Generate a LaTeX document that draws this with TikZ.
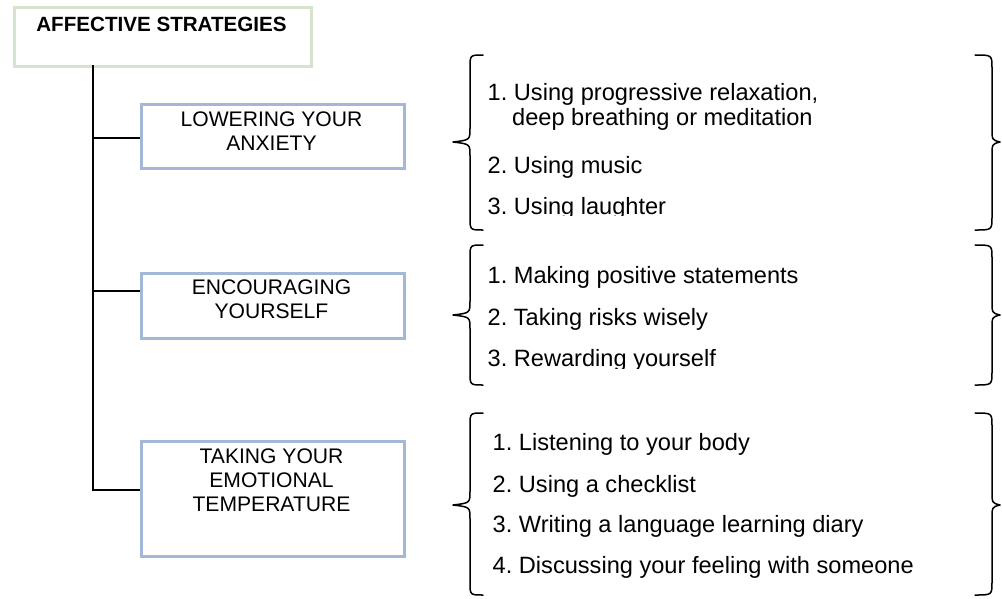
\documentclass[tikz,border=0pt]{standalone}
\usepackage{fontspec}
\setmainfont{Liberation Sans}
\frenchspacing
\definecolor{titleframe}{RGB}{214,227,207}
\definecolor{boxframe}{RGB}{163,184,214}
\tikzset{
  titlebox/.style={draw=titleframe, line width=3pt, minimum width=297pt, minimum height=59pt, inner sep=0pt, anchor=north west},
  stratbox/.style={draw=boxframe, line width=3pt, minimum width=263pt, inner sep=0pt, anchor=north west},
  boxline/.style={anchor=base, inner sep=0pt, font=\fontsize{21.1pt}{24pt}\selectfont},
  titleline/.style={anchor=base, inner sep=0pt, font=\bfseries\fontsize{20.6pt}{24pt}\selectfont},
  itemline/.style={anchor=base west, inner sep=0pt, font=\fontsize{23.6pt}{26pt}\selectfont},
  trunk/.style={line width=1.6pt, black},
  bracket/.style={line width=1.5pt, black, line join=round, line cap=round}
}
% curly bracket: hook end x, spine x, tip x, top y, tip y, bottom y
\newcommand\leftcurly[6]{%
  \draw[bracket] (#1,#4) .. controls (#2,#4) .. (#2,#4+13) -- (#2,#5-14)
    .. controls (#2,#5-2) .. (#3,#5) .. controls (#2,#5+2) .. (#2,#5+14)
    -- (#2,#6-13) .. controls (#2,#6) .. (#1,#6);}
\begin{document}
\begin{tikzpicture}[x=1pt, y=-1pt]
\useasboundingbox (0,0) rectangle (1002,598);

% main heading
\node[titlebox] (title) at (13,6) {};
\node[titleline] (titletext) at (161.5,31) {AFFECTIVE STRATEGIES};

% strategy boxes
\node[stratbox, minimum height=64pt] (b1) at (140,103) {};
\node[boxline] (b1a) at (271.5,126) {LOWERING YOUR};
\node[boxline] (b1b) at (271.5,150) {ANXIETY};

\node[stratbox, minimum height=65pt] (b2) at (140,272) {};
\node[boxline] (b2a) at (271.5,294) {ENCOURAGING};
\node[boxline] (b2b) at (271.5,318) {YOURSELF};

\node[stratbox, minimum height=115pt] (b3) at (140,440) {};
\node[boxline] (b3a) at (271.5,463) {TAKING YOUR};
\node[boxline] (b3b) at (271.5,487) {EMOTIONAL};
\node[boxline] (b3c) at (271.5,511) {TEMPERATURE};

% tree connectors
\coordinate (root) at (93,65);
\coordinate (j1) at (93,138);
\coordinate (j2) at (93,291);
\coordinate (j3) at (93,490);
\draw[trunk] (root) -- (j3) -- (j3 -| b3.west);
\draw[trunk] (j1) -- (j1 -| b1.west);
\draw[trunk] (j2) -- (j2 -| b2.west);

% group 1
\leftcurly{483}{470}{453}{55}{142}{230}
\leftcurly{975}{992}{1000}{55}{142}{230}
\begin{scope}
  \clip (440,40) rectangle (960,215.5);
  \node[itemline] (g1a) at (487.5,100) {1. Using progressive relaxation,};
  \node[itemline] (g1b) at (512,125) {deep breathing or meditation};
  \node[itemline] (g1c) at (487.5,173) {2. Using music};
  \node[itemline] (g1d) at (487.5,214) {3. Using laughter};
\end{scope}

% group 2
\leftcurly{483}{470}{453}{245}{315}{385}
\leftcurly{975}{992}{1000}{245}{315}{385}
\begin{scope}
  \clip (440,240) rectangle (960,368);
  \node[itemline] (g2a) at (487.5,283) {1. Making positive statements};
  \node[itemline] (g2b) at (487.5,325) {2. Taking risks wisely};
  \node[itemline] (g2c) at (487.5,366) {3. Rewarding yourself};
\end{scope}

% group 3
\leftcurly{483}{470}{453}{413}{505}{595}
\leftcurly{975}{992}{1000}{413}{505}{595}
\node[itemline] (g3a) at (492.5,450) {1. Listening to your body};
\node[itemline] (g3b) at (492.5,492) {2. Using a checklist};
\node[itemline] (g3c) at (492.5,532) {3. Writing a language learning diary};
\node[itemline] (g3d) at (492.5,573) {4. Discussing your feeling with someone};
\end{tikzpicture}
\end{document}
